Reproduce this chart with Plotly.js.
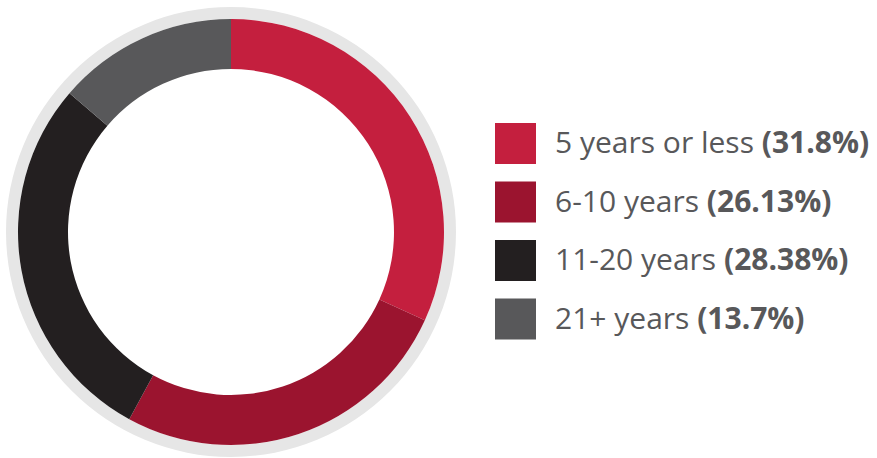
<!DOCTYPE html>
<html><head><meta charset="utf-8">
<script src="https://cdn.plot.ly/plotly-3.0.1.min.js"></script>
<style>html,body{margin:0;padding:0;background:#fff}#chart{width:877px;height:458px}</style>
</head><body><div id="chart"></div>
<script>
var categories = ["5 years or less", "6-10 years", "11-20 years", "21+ years"];
var values = [31.8, 26.13, 28.38, 13.7];
var valueLabels = ["31.8%", "26.13%", "28.38%", "13.7%"];
var colors = ["#c41f3e", "#9b142f", "#231f20", "#58585a"];

var W = 877, H = 458;
var cx = 231, cy = 232;
function dom(r){
  return {x:[(cx-r)/W,(cx+r)/W], y:[1-(cy+r)/H, 1-(cy-r)/H]};
}

var ring = {
  type:'pie', values:[1], labels:['ring'], marker:{colors:['#e6e6e6'], line:{width:0}},
  hole: 213/225, domain: dom(225), textinfo:'none', hoverinfo:'skip', sort:false, showlegend:false
};
var donut = {
  type:'pie', values: values, labels: categories, marker:{colors: colors, line:{width:0}},
  hole: 163/213, domain: dom(213), textinfo:'none', sort:false, direction:'clockwise', rotation:0, showlegend:false
};

var shapes = [], annotations = [];
var y0 = 143.5, step = 58.5, sq = 41;
for (var i=0;i<categories.length;i++){
  var yc = y0 + i*step;
  shapes.push({type:'rect', xref:'paper', yref:'paper', x0:495/W, x1:(495+sq)/W,
    y0:1-(yc+sq/2)/H, y1:1-(yc-sq/2)/H, fillcolor:colors[i], line:{width:0}});
  annotations.push({xref:'paper', yref:'paper', x:553/W, y:1-(yc-2)/H, xanchor:'left', yanchor:'middle',
    showarrow:false, text: categories[i] + ' <b>(' + valueLabels[i] + ')</b>',
    font:{family:'Open Sans', size:30, color:'#58585a'}});
}

Plotly.newPlot('chart', [ring, donut], {
  width:W, height:H, margin:{l:0,r:0,t:0,b:0}, paper_bgcolor:'#fff', plot_bgcolor:'#fff',
  shapes:shapes, annotations:annotations, showlegend:false
}, {displayModeBar:false, staticPlot:true});
</script></body></html>
